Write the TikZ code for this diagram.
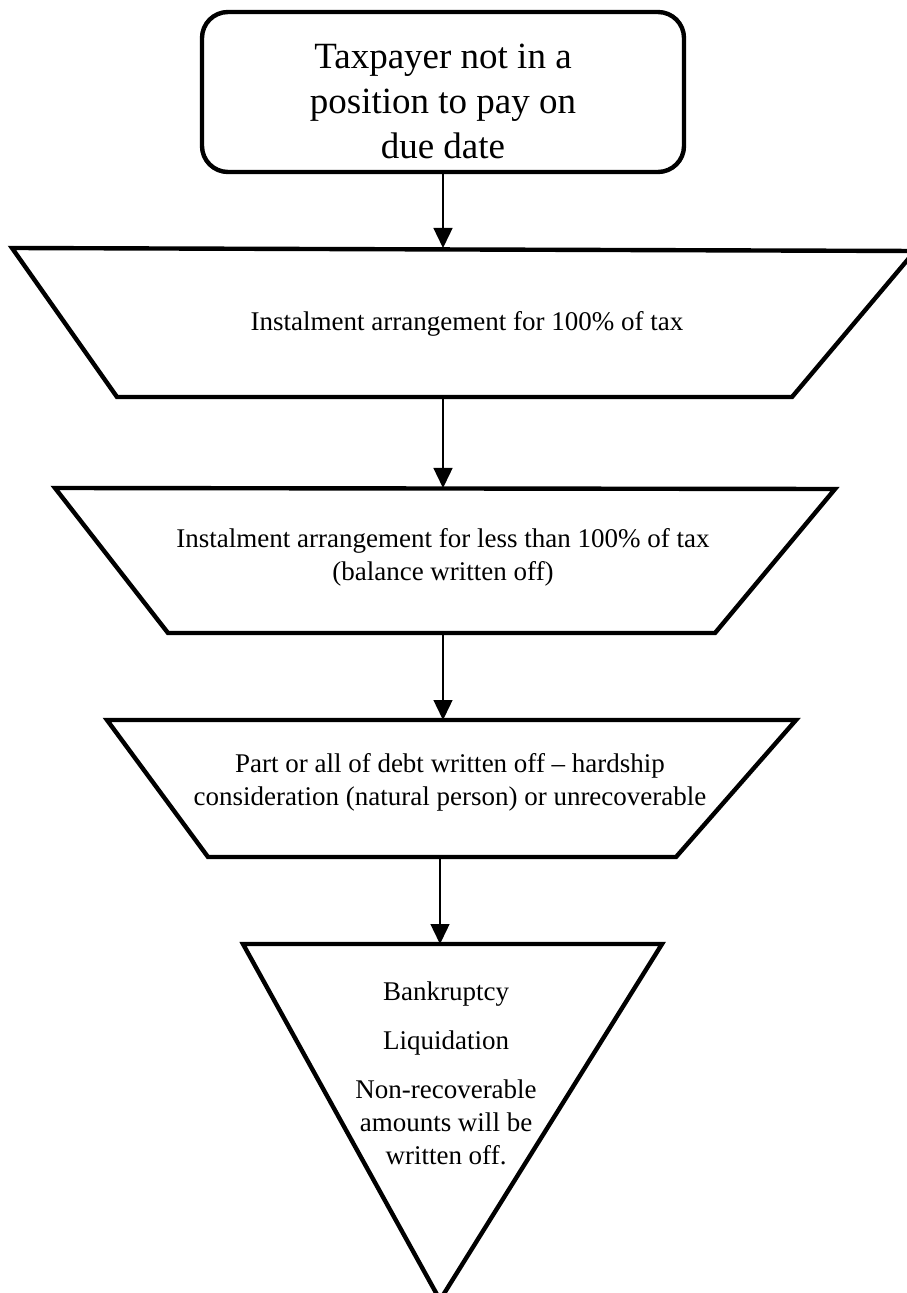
\documentclass[tikz,border=0pt]{standalone}
\usepackage{fontspec}
\setmainfont{Liberation Serif}
\usetikzlibrary{arrows.meta}

\begin{document}
\begin{tikzpicture}[x = 0.5pt, y = -0.5pt,
	block/.style = {draw, line width = 2.2pt, line join = miter},
	flow/.style = {line width = 0.7pt, -{Triangle[length = 10pt, width = 9.5pt]}},
	txt/.style = {align = center, font = \fontsize{13.5}{16.5}\selectfont}]
	\useasboundingbox (0,0) rectangle (906,1293);
	\node[block, rounded corners = 13pt, minimum width = 241pt, minimum height = 80pt](TAX) at (443,92){};
	\node[align = center, font = \fontsize{18.5}{22.5}\selectfont](TAX-T) at (443,101){Taxpayer not in a\\position to pay on\\due date};
	\draw[block] (12,248) -- (915,251) -- (792,397) -- (117,397) -- cycle;
	\draw[block] (55,488) -- (835,489) -- (715,633) -- (168,633) -- cycle;
	\draw[block] (107,720) -- (796,720) -- (676,857) -- (208,857) -- cycle;
	\draw[block] (243,944) -- (662,944) -- (440,1300) -- cycle;
	\node[txt](FULL) at (467,324){Instalment arrangement for 100\% of tax};
	\node[txt](PART) at (443,557){Instalment arrangement for less than 100\% of tax\\(balance written off)};
	\node[txt](HARD) at (450,782){Part or all of debt written off -- hardship\\consideration (natural person) or unrecoverable};
	\node[txt](BANK) at (446,1073){Bankruptcy\\[8pt]Liquidation\\[8pt]Non-recoverable\\amounts will be\\written off.};
	\coordinate (FULL-T) at (443,248);
	\coordinate (FULL-B) at (443,397);
	\coordinate (PART-T) at (443,488);
	\coordinate (PART-B) at (443,633);
	\coordinate (HARD-T) at (443,720);
	\coordinate (HARD-B) at (440,857);
	\coordinate (BANK-T) at (440,944);
	\draw[flow] (TAX.south) -- (FULL-T);
	\draw[flow] (FULL-B) -- (PART-T);
	\draw[flow] (PART-B) -- (HARD-T);
	\draw[flow] (HARD-B) -- (BANK-T);
\end{tikzpicture}
\end{document}
